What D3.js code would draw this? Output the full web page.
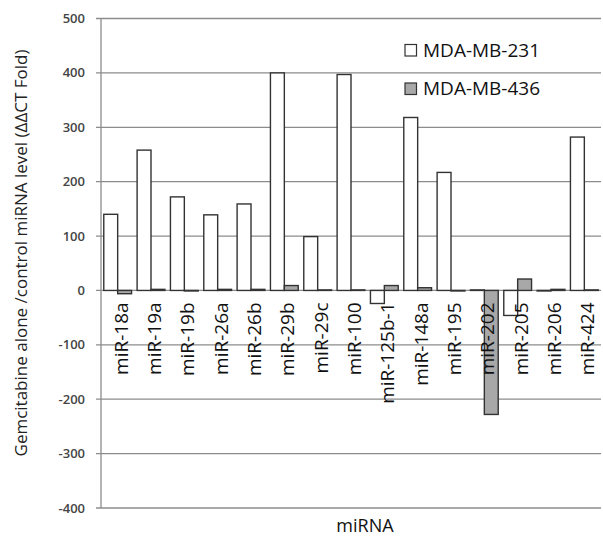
<!DOCTYPE html>
<html>
<head>
<meta charset="utf-8">
<script src="https://cdn.jsdelivr.net/npm/d3@7"></script>
<style>
  body { margin: 0; background: #fff; }
  svg { display: block; }
</style>
</head>
<body>
<div id="chart"></div>
<script>
// chart values
const categories = ["miR-18a", "miR-19a", "miR-19b", "miR-26a", "miR-26b", "miR-29b", "miR-29c",
    "miR-100", "miR-125b-1", "miR-148a", "miR-195", "miR-202", "miR-205", "miR-206", "miR-424"];
const mda231 = [140, 258, 172, 139, 159, 400, 99, 397, -24, 318, 217, 1, -46, -1, 282];
const mda436 = [-6, 2, -1, 2, 2, 9, 1, 1, 9, 5, -1, -228, 21, 2, 1];
const seriesNames = ["MDA-MB-231", "MDA-MB-436"];
const yTicks = [-400, -300, -200, -100, 0, 100, 200, 300, 400, 500];

// formatting parameters
const width = 603;
const height = 539;
const margin = { top: 18.5, right: 2, bottom: 31, left: 101 };
const font = "'Open Sans', sans-serif";

const svg = d3.select("#chart")
    .append("svg")
    .attr("width", width)
    .attr("height", height);

// scales
const y = d3.scaleLinear()
    .domain([-400, 500])
    .range([height - margin.bottom, margin.top]);

const x0 = d3.scaleBand()
    .domain(categories)
    .range([margin.left, width - margin.right]);

const x1 = d3.scaleBand()
    .domain(seriesNames)
    .range([0, x0.bandwidth()])
    .paddingOuter(0.2);

const colors = { "MDA-MB-231": "#ffffff", "MDA-MB-436": "#a8a8a8" };

// gridlines (with the little outside ticks)
svg.append("g")
    .selectAll("line")
    .data(yTicks)
    .enter()
    .append("line")
    .attr("x1", margin.left - 5)
    .attr("x2", width - margin.right)
    .attr("y1", d => y(d))
    .attr("y2", d => y(d))
    .style("stroke", "#8c8c8c")
    .style("stroke-width", "1.3px");

// y axis line
svg.append("line")
    .attr("x1", margin.left)
    .attr("x2", margin.left)
    .attr("y1", y(500))
    .attr("y2", y(-400))
    .style("stroke", "#8c8c8c")
    .style("stroke-width", "1.3px");

// y tick labels
svg.append("g")
    .selectAll("text")
    .data(yTicks)
    .enter()
    .append("text")
    .attr("x", margin.left - 16)
    .attr("y", d => y(d))
    .attr("dy", "0.35em")
    .style("text-anchor", "end")
    .style("font-family", font)
    .style("font-size", "13px")
    .style("font-weight", "600")
    .style("fill", "#444")
    .text(d => d);

// bars
const rows = categories.map((c, i) => ({ cat: c, values: [mda231[i], mda436[i]] }));

const groups = svg.append("g")
    .selectAll("g")
    .data(rows)
    .enter()
    .append("g")
    .attr("transform", d => `translate(${x0(d.cat)},0)`);

groups.selectAll("rect")
    .data(d => d.values.map((v, j) => ({ name: seriesNames[j], value: v })))
    .enter()
    .append("rect")
    .attr("x", d => x1(d.name))
    .attr("width", x1.bandwidth())
    .attr("y", d => y(Math.max(0, d.value)))
    .attr("height", d => Math.abs(y(d.value) - y(0)))
    .style("fill", d => colors[d.name])
    .style("stroke", "#333")
    .style("stroke-width", "1.4px");

// category labels, rotated
svg.append("g")
    .selectAll("text")
    .data(categories)
    .enter()
    .append("text")
    .attr("transform", d => `translate(${x0(d) + x0.bandwidth() / 2 + 10},${y(0) + 12}) rotate(-90)`)
    .style("text-anchor", "end")
    .style("font-family", font)
    .style("font-size", "19px")
    .style("fill", "#111")
    .text(d => d);

// legend
const legend = svg.append("g")
    .attr("transform", "translate(405,44.5)");

const legendItems = legend.selectAll("g")
    .data(seriesNames)
    .enter()
    .append("g")
    .attr("transform", (d, i) => `translate(0,${i * 38.5})`);

legendItems.append("rect")
    .attr("width", 11.5)
    .attr("height", 11.5)
    .style("fill", d => colors[d])
    .style("stroke", "#333")
    .style("stroke-width", "1.2px");

legendItems.append("text")
    .attr("x", 18)
    .attr("y", 12)
    .style("font-family", font)
    .style("font-size", "19px")
    .style("fill", "#111")
    .text(d => d);

// axis titles
svg.append("text")
    .attr("transform", "translate(27,253) rotate(-90)")
    .style("text-anchor", "middle")
    .style("font-family", font)
    .style("font-size", "17px")
    .style("fill", "#222")
    .text("Gemcitabine alone /control miRNA level  (ΔΔCT Fold)");

svg.append("text")
    .attr("x", 365)
    .attr("y", 532)
    .style("text-anchor", "middle")
    .style("font-family", font)
    .style("font-size", "18px")
    .style("fill", "#111")
    .text("miRNA");
</script>
</body>
</html>
